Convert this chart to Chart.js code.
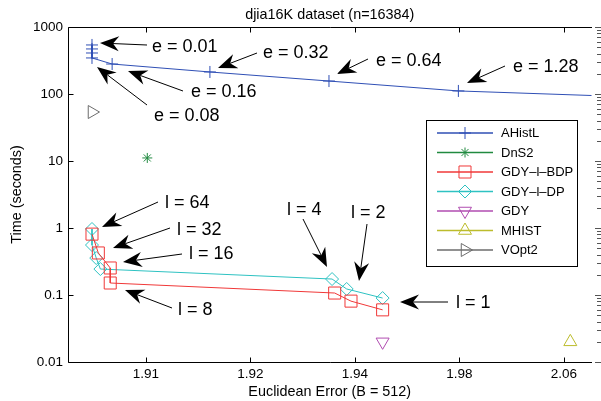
<!DOCTYPE html>
<html>
<head>
<meta charset="utf-8">
<script src="https://cdn.jsdelivr.net/npm/chart.js"></script>
<style>
  html, body { margin: 0; padding: 0; background: #fff; }
  #wrap { width: 601px; height: 401px; }
</style>
</head>
<body>
<div id="wrap"><canvas id="myChart" width="601" height="401"></canvas></div>
<script>
/* eslint-disable no-undef */

// the x axis is a log scale of (error - 1.9), so 1.91, 1.92, 1.94 ... sit evenly apart
const X_ORIGIN = 1.9;

const xTicks = [1.91, 1.92, 1.94, 1.98, 2.06];
const yTicks = [0.01, 0.1, 1, 10, 100, 1000];

// AHistL, e = 0.01 ... 1.28 (last point runs off the right edge)
const ahistlErr = [1.9070, 1.9070, 1.9070, 1.9070, 1.9080, 1.9153, 1.9337, 1.9795, 2.159];
const ahistlTime = [539, 470, 409, 345, 280, 213, 156, 111, 90];

const dns2Err = [1.9101];
const dns2Time = [11.1];

// GDY-l-BDP and GDY-l-DP, l = 64 ... 1
const bdpErr = [1.9070, 1.9073, 1.9079, 1.9079, 1.9350, 1.9390, 1.9481];
const bdpTime = [0.81, 0.424, 0.253, 0.151, 0.107, 0.081, 0.060];
const dpErr = [1.9070, 1.9070, 1.9072, 1.9074, 1.9344, 1.9379, 1.9481];
const dpTime = [0.966, 0.557, 0.356, 0.244, 0.173, 0.123, 0.090];

const gdyErr = [1.9481];
const gdyTime = [0.02];
const mhistErr = [2.067];
const mhistTime = [0.02];
const vopt2Err = [1.9070];
const vopt2Time = [53.8];

const FONT = 'Liberation Sans, Arial, Helvetica, sans-serif';

function pts(errs, times) {
  return errs.map(function(e, i) { return { x: e - X_ORIGIN, y: times[i] }; });
}

function series(label, errs, times, color, style, radius, rotation, showLine) {
  return {
    label: label,
    data: pts(errs, times),
    showLine: showLine,
    borderColor: color,
    borderWidth: 1,
    backgroundColor: 'rgba(0,0,0,0)',
    pointStyle: style,
    pointRadius: radius,
    pointRotation: rotation,
    pointBorderColor: color,
    pointBackgroundColor: 'rgba(0,0,0,0)',
    pointBorderWidth: 1,
    tension: 0
  };
}

// arrows + labels, in pixels
const notes = [
  { text: 'e = 0.01', tx: 152, ty: 47, from: [147, 45], to: [100, 43] },
  { text: 'e = 0.32', tx: 263, ty: 53, from: [257, 53], to: [218, 68] },
  { text: 'e = 0.64', tx: 376, ty: 61, from: [368, 59], to: [337, 74] },
  { text: 'e = 1.28', tx: 513, ty: 67, from: [505, 66], to: [467, 83] },
  { text: 'e = 0.16', tx: 191, ty: 92, from: [183, 91], to: [128, 71] },
  { text: 'e = 0.08', tx: 154, ty: 116, from: [147, 105], to: [97, 67] },
  { text: 'l = 64', tx: 165, ty: 203, from: [158, 202], to: [102, 227] },
  { text: 'l = 32', tx: 177, ty: 230, from: [170, 228], to: [113, 248] },
  { text: 'l = 16', tx: 189, ty: 254, from: [182, 254], to: [123, 262] },
  { text: 'l = 8', tx: 178, ty: 310, from: [172, 308], to: [125, 290] },
  { text: 'l = 4', tx: 287, ty: 210, from: [303, 219], to: [327, 267] },
  { text: 'l = 2', tx: 351, ty: 213, from: [367, 224], to: [359, 281] },
  { text: 'l = 1', tx: 456, ty: 303, from: [448, 302], to: [400, 302] }
];

function drawArrow(ctx, from, to) {
  const dx = to[0] - from[0];
  const dy = to[1] - from[1];
  const len = Math.sqrt(dx * dx + dy * dy);
  const ux = dx / len, uy = dy / len;
  const nx = -uy, ny = ux;
  const L = 19, W = 7.5, notch = 6;
  ctx.beginPath();
  ctx.moveTo(from[0], from[1]);
  ctx.lineTo(to[0] - ux * (L - notch), to[1] - uy * (L - notch));
  ctx.stroke();
  ctx.beginPath();
  ctx.moveTo(to[0], to[1]);
  ctx.lineTo(to[0] - ux * L + nx * W, to[1] - uy * L + ny * W);
  ctx.lineTo(to[0] - ux * (L - notch), to[1] - uy * (L - notch));
  ctx.lineTo(to[0] - ux * L - nx * W, to[1] - uy * L - ny * W);
  ctx.closePath();
  ctx.fill();
}

const extras = {
  id: 'extras',
  afterDraw: function(chart) {
    const ctx = chart.ctx;
    const a = chart.chartArea;
    const xs = chart.scales.x;
    const ys = chart.scales.y;
    const L = Math.round(a.left) + 0.5;
    const T = Math.round(a.top) + 0.5;
    const B = Math.round(a.bottom) + 0.5;
    const R = Math.round(a.right);
    ctx.save();

    // frame: left, top and bottom (right axis falls off the picture)
    ctx.strokeStyle = '#000';
    ctx.lineWidth = 1;
    ctx.beginPath();
    ctx.moveTo(R, T); ctx.lineTo(L, T); ctx.lineTo(L, B); ctx.lineTo(R, B);
    ctx.stroke();

    // inward tick marks
    ctx.beginPath();
    xTicks.forEach(function(t) {
      const px = Math.round(xs.getPixelForValue(t - X_ORIGIN)) + 0.5;
      ctx.moveTo(px, B); ctx.lineTo(px, B - 5);
      ctx.moveTo(px, T); ctx.lineTo(px, T + 5);
    });
    yTicks.forEach(function(t) {
      const py = Math.round(ys.getPixelForValue(t)) + 0.5;
      ctx.moveTo(L, py); ctx.lineTo(L + 5, py);
    });
    ctx.stroke();

    // right side ticks, partly cut off
    ctx.strokeStyle = '#555';
    ctx.beginPath();
    yTicks.forEach(function(t) {
      const py = Math.round(ys.getPixelForValue(t)) + 0.5;
      ctx.moveTo(601, py); ctx.lineTo(595, py);
    });
    for (let d = 0; d < yTicks.length - 1; d++) {
      for (let k = 2; k < 10; k++) {
        const py = Math.round(ys.getPixelForValue(yTicks[d] * k)) + 0.5;
        ctx.moveTo(601, py); ctx.lineTo(597, py);
      }
    }
    ctx.stroke();

    // annotations
    ctx.fillStyle = '#000';
    ctx.strokeStyle = '#000';
    ctx.lineWidth = 1;
    ctx.font = '18px ' + FONT;
    ctx.textBaseline = 'middle';
    ctx.textAlign = 'left';
    notes.forEach(function(n) {
      drawArrow(ctx, n.from, n.to);
      ctx.fillText(n.text, n.tx, n.ty);
    });

    // legend box
    const bx = 426, by = 120, bw = 151, bh = 146;
    ctx.fillStyle = '#fff';
    ctx.fillRect(bx, by, bw, bh);
    ctx.strokeStyle = '#000';
    ctx.strokeRect(bx + 0.5, by + 0.5, bw, bh);
    ctx.font = '13px ' + FONT;
    chart.data.datasets.forEach(function(ds, i) {
      const y = 133 + i * 19.5;
      ctx.strokeStyle = ds.borderColor;
      ctx.lineWidth = 1.5;
      ctx.beginPath();
      ctx.moveTo(437, y); ctx.lineTo(493, y);
      ctx.stroke();
      ctx.lineWidth = 1;
      ctx.fillStyle = 'rgba(0,0,0,0)';
      Chart.helpers.drawPoint(ctx, {
        pointStyle: ds.pointStyle,
        radius: ds.pointRadius,
        rotation: ds.pointRotation,
        borderWidth: 1
      }, 465, y);
      ctx.fillStyle = '#000';
      ctx.fillText(ds.label, 501, y + 0.5);
    });

    ctx.restore();
  }
};

const ctx = document.getElementById('myChart').getContext('2d');
const chart = new Chart(ctx, {
  type: 'line',
  data: {
    datasets: [
      series('AHistL', ahistlErr, ahistlTime, '#2f4fb5', 'cross', 6, 0, true),
      series('DnS2', dns2Err, dns2Time, '#218a40', 'star', 5, 0, false),
      series('GDY\u2013l\u2013BDP', bdpErr, bdpTime, '#f03838', 'rect', 8.5, 0, true),
      series('GDY\u2013l\u2013DP', dpErr, dpTime, '#2ec2c2', 'rectRot', 6.5, 0, true),
      series('GDY', gdyErr, gdyTime, '#b04cb0', 'triangle', 7.5, 180, false),
      series('MHIST', mhistErr, mhistTime, '#bcbc2c', 'triangle', 7.5, 0, false),
      series('VOpt2', vopt2Err, vopt2Time, '#6c6c6c', 'triangle', 7.5, 90, false)
    ]
  },
  options: {
    responsive: false,
    animation: false,
    layout: { padding: { left: 0, top: 0, bottom: 0, right: 5 } },
    plugins: {
      legend: { display: false },
      tooltip: { enabled: false },
      title: {
        display: true,
        fullSize: false,
        text: 'djia16K dataset (n=16384)',
        color: '#000',
        font: { family: FONT, size: 14.4, weight: 'normal' },
        padding: { top: 6, bottom: 3.7 }
      }
    },
    scales: {
      x: {
        type: 'logarithmic',
        min: 0.00597,
        max: 0.1922,
        afterBuildTicks: function(scale) {
          scale.ticks = xTicks.map(function(t) { return { value: t - X_ORIGIN }; });
        },
        afterFit: function(scale) { scale.height = 39; },
        grid: { display: false, drawTicks: false },
        border: { display: false },
        ticks: {
          padding: 4,
          color: '#000',
          autoSkip: false,
          maxRotation: 0,
          font: { family: FONT, size: 13.5 },
          callback: function(v) { return (v + X_ORIGIN).toFixed(2); }
        },
        title: {
          display: true,
          text: 'Euclidean Error (B = 512)',
          color: '#000',
          padding: 0,
          font: { family: FONT, size: 14.4 }
        }
      },
      y: {
        type: 'logarithmic',
        min: 0.01,
        max: 1000,
        afterBuildTicks: function(scale) {
          scale.ticks = yTicks.map(function(t) { return { value: t }; });
        },
        afterFit: function(scale) { scale.width = 68; },
        grid: { display: false, drawTicks: false },
        border: { display: false },
        ticks: {
          padding: 5,
          color: '#000',
          autoSkip: false,
          font: { family: FONT, size: 13.5 },
          callback: function(v) { return String(v); }
        },
        title: {
          display: true,
          text: 'Time (seconds)',
          color: '#000',
          padding: { top: 8, bottom: 0 },
          font: { family: FONT, size: 14.4 }
        }
      }
    }
  },
  plugins: [extras]
});
</script>
</body>
</html>
